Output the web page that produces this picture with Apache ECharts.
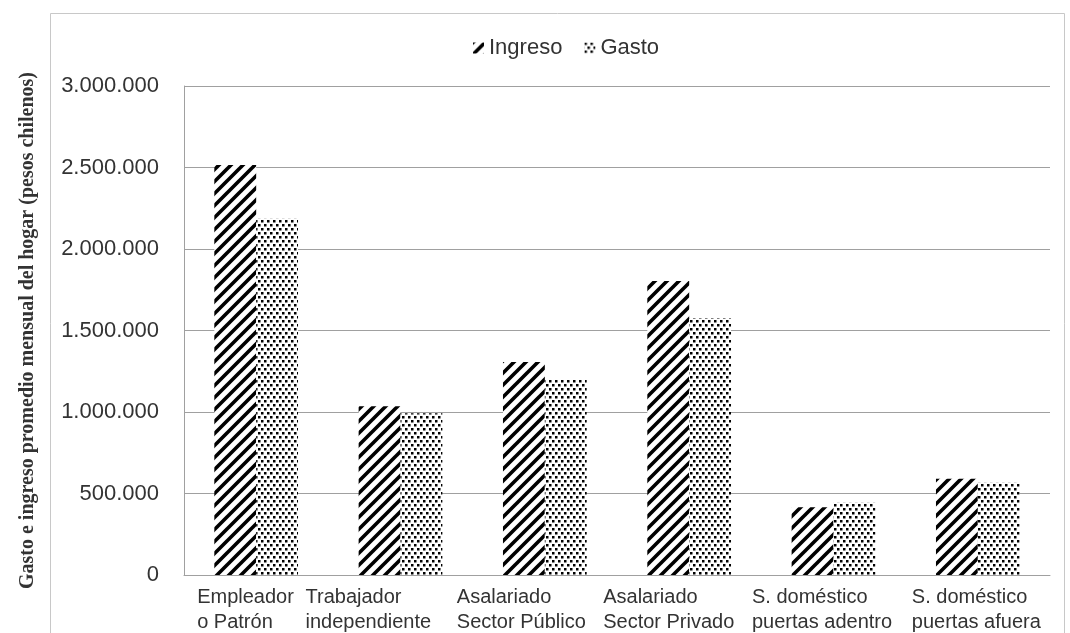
<!DOCTYPE html>
<html>
<head>
<meta charset="utf-8">
<script src="https://cdn.jsdelivr.net/npm/echarts@6/dist/echarts.min.js"></script>
<style>
  html, body { margin: 0; padding: 0; background: #fff; }
  #chart { width: 1070px; height: 633px; }
</style>
</head>
<body>
<div id="chart"></div>
<script>
// Categories (two-line labels) and household averages in Chilean pesos
const categories = [
  'Empleador\no Patrón',
  'Trabajador\nindependiente',
  'Asalariado\nSector Público',
  'Asalariado\nSector Privado',
  'S. doméstico\npuertas adentro',
  'S. doméstico\npuertas afuera'
];
const ingreso = [2515000, 1035000, 1307000, 1803000, 415000, 590000];
const gasto   = [2185000,  992000, 1196000, 1577000, 444000, 566000];
const yTickLabels = ['0', '500.000', '1.000.000', '1.500.000', '2.000.000', '2.500.000', '3.000.000'];
const seriesNames = ['Ingreso', 'Gasto'];
const yAxisTitle = 'Gasto e ingreso promedio mensual del hogar (pesos chilenos)';

// Shifts so each wrapped label block sits where the text layout puts it
const labelPadding = [
  [0, 0, 0, 32],
  [0, 40, 0, 0],
  [0, 26, 0, 0],
  [0, 22, 0, 0],
  [0, 13, 0, 0],
  [0, 0, 0, 18]
];

// Diagonal hatch fill
function stripePattern() {
  const c = document.createElement('canvas');
  const s = 12;
  c.width = s; c.height = s;
  const g = c.getContext('2d');
  g.fillStyle = '#fff';
  g.fillRect(0, 0, s, s);
  g.strokeStyle = '#000';
  g.lineWidth = 3.6;
  g.lineCap = 'square';
  [-s, 0, s].forEach(dx => {
    g.beginPath();
    g.moveTo(dx - 2, s + 2);
    g.lineTo(dx + s + 2, -2);
    g.stroke();
  });
  return c;
}

// Staggered dot fill
function dotPattern() {
  const c = document.createElement('canvas');
  c.width = 6; c.height = 8;
  const g = c.getContext('2d');
  g.fillStyle = '#fff';
  g.fillRect(0, 0, 6, 8);
  g.fillStyle = '#000';
  g.fillRect(0, 0, 2.5, 2.5);
  g.fillRect(3, 4, 2.5, 2.5);
  return c;
}

const stripes = { image: stripePattern(), repeat: 'repeat' };
const dots = { image: dotPattern(), repeat: 'repeat' };

const sans = '"Liberation Sans", Arial, sans-serif';

const chart = echarts.init(document.getElementById('chart'), null, { renderer: 'canvas' });

chart.setOption({
  animation: false,
  backgroundColor: '#fff',
  graphic: [{
    type: 'rect',
    shape: { x: 50.5, y: 13.5, width: 1014, height: 660 },
    style: { fill: 'none', stroke: '#c8c8c8', lineWidth: 1 },
    z: -1
  }],
  legend: {
    top: 32,
    left: 468,
    icon: 'rect',
    itemWidth: 11,
    itemHeight: 11,
    itemGap: 22,
    textStyle: { fontFamily: sans, fontSize: 22, color: '#333' },
    data: seriesNames
  },
  grid: {
    left: 184,
    right: 20,
    top: 86,
    bottom: 58,
    containLabel: false,
    outerBoundsMode: 'none'
  },
  xAxis: {
    type: 'category',
    data: categories.map((c, i) => ({
      value: c,
      textStyle: { padding: labelPadding[i] }
    })),
    axisLine: { show: true, lineStyle: { color: '#a0a0a0', width: 1 } },
    axisTick: { show: false },
    axisLabel: {
      interval: 0,
      hideOverlap: false,
      margin: 10,
      color: '#333',
      fontFamily: sans,
      fontSize: 20,
      align: 'center',
      formatter: v => v.split('\n').map(line => '{t|' + line + '}').join('\n'),
      rich: {
        t: { width: 150, align: 'left', fontFamily: sans, fontSize: 20, lineHeight: 25, color: '#333' }
      }
    }
  },
  yAxis: {
    type: 'value',
    min: 0,
    max: 3000000,
    interval: 500000,
    name: yAxisTitle,
    nameLocation: 'middle',
    nameRotate: 90,
    nameGap: 146,
    nameTextStyle: {
      fontFamily: '"Liberation Serif", "Times New Roman", serif',
      fontWeight: 'bold',
      fontSize: 20,
      color: '#333'
    },
    axisLine: { show: true, lineStyle: { color: '#a0a0a0', width: 1 } },
    axisTick: { show: false },
    splitLine: { show: true, lineStyle: { color: '#a0a0a0', width: 1 } },
    axisLabel: {
      margin: 25,
      color: '#333',
      fontFamily: sans,
      fontSize: 22,
      formatter: v => yTickLabels[Math.round(v / 500000)]
    }
  },
  series: [
    {
      name: seriesNames[0],
      type: 'bar',
      data: ingreso,
      barGap: '0%',
      barCategoryGap: '42%',
      itemStyle: { color: stripes }
    },
    {
      name: seriesNames[1],
      type: 'bar',
      data: gasto,
      barGap: '0%',
      barCategoryGap: '42%',
      itemStyle: { color: dots }
    }
  ]
});
</script>
</body>
</html>
